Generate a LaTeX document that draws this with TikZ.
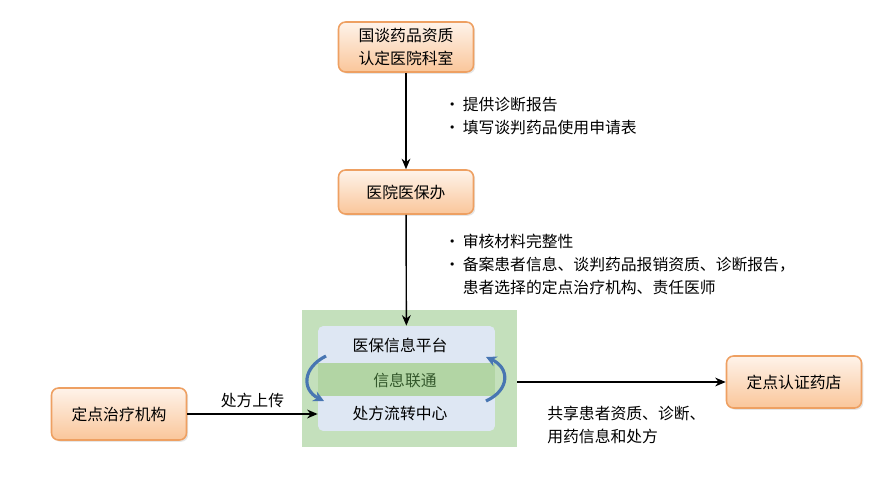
\documentclass[tikz,border=0pt]{standalone}
\usepackage{fontspec}
\setmainfont{Noto Sans CJK SC}
\usetikzlibrary{positioning, arrows.meta, calc, shadows}
\definecolor{boxline}{RGB}{238,160,98}
\definecolor{boxtop}{RGB}{254,243,234}
\definecolor{boxbot}{RGB}{250,198,154}
\definecolor{platgreen}{RGB}{196,224,188}
\definecolor{bandgreen}{RGB}{178,213,164}
\definecolor{platblue}{RGB}{222,231,243}
\definecolor{linkblue}{RGB}{72,118,178}
\definecolor{linktext}{RGB}{52,88,44}
\tikzset{
    orgbox/.style={rectangle, rounded corners=4pt, draw=boxline, line width=0.9pt, top color=boxtop, bottom color=boxbot, minimum width=2.7cm, minimum height=1.04cm, align=center, font=\fontsize{9pt}{13pt}\selectfont, drop shadow={opacity=0.2, shadow xshift=1pt, shadow yshift=-1pt}},
    platlabel/.style={font=\fontsize{9pt}{13pt}\selectfont, inner sep=0pt},
    notes/.style={anchor=base west, inner sep=0pt, font=\fontsize{9pt}{13.3pt}\selectfont},
    flow/.style={-{Stealth[length=6pt, width=5pt]}, line width=0.8pt},
    linkarrow/.style={-{Stealth[length=6pt, width=6pt]}, line width=1.8pt, draw=linkblue},
}

\begin{document}
\begin{tikzpicture}[x=0.02cm, y=-0.02cm]
\useasboundingbox (0,0) rectangle (896,487);
% departments
\node[orgbox, minimum height=1cm] (qual) at (406,47) {国谈药品资质\\认定医院科室};
\node[orgbox, minimum height=0.88cm] (office) at (406,192) {医院医保办};
\node[orgbox] (clinic) at (119,414) {定点治疗机构};
\node[orgbox] (store) at (794,382) {定点认证药店};
% platform
\node[rectangle, fill=platgreen, minimum width=4.3cm, minimum height=2.74cm] (platform) at (409.5,378.5) {};
\node[rectangle, rounded corners=3pt, fill=platblue, minimum width=3.54cm, minimum height=2.1cm] (inner) at (406.5,378.5) {};
\node[rectangle, fill=bandgreen, minimum width=3.54cm, minimum height=0.66cm] (band) at (406.5,379.5) {};
\node[platlabel] (insure) at (400,345) {医保信息平台};
\node[platlabel, text=linktext] (link) at (405,380) {信息联通};
\node[platlabel] (rxcenter) at (400,413) {处方流转中心};
\coordinate (lt) at (326,356);
\coordinate (lb) at (324,401);
\coordinate (rb) at (486,401);
\coordinate (rt) at (486,357);
\draw[linkarrow] (lt) .. controls (302,368) and (302,390) .. (lb);
\draw[linkarrow] (rb) .. controls (510,390) and (510,368) .. (rt);
% connectors
\draw[flow] (qual) -- (office);
\draw[flow] (office) -- (inner);
\draw[flow] (clinic.east) -- (clinic.east -| inner.west) node[midway, above=3pt, platlabel] {处方上传};
\draw[flow] (store.west -| platform.east) -- (store.west);
% notes
\node[notes] (notes1) at (444,110) {\begin{tabular}[t]{@{}l@{\hspace{1.5pt}}l@{}}
•&提供诊断报告\\
•&填写谈判药品使用申请表
\end{tabular}};
\node[notes] (notes2) at (444,247) {\begin{tabular}[t]{@{}l@{\hspace{1.5pt}}l@{}}
•&审核材料完整性\\
•&备案患者信息、谈判药品报销资质、诊断报告，\\
&患者选择的定点治疗机构、责任医师
\end{tabular}};
\node[notes] (share) at (547,419) {\begin{tabular}[t]{@{}l@{}}
共享患者资质、诊断、\\
用药信息和处方
\end{tabular}};
\end{tikzpicture}
\end{document}
